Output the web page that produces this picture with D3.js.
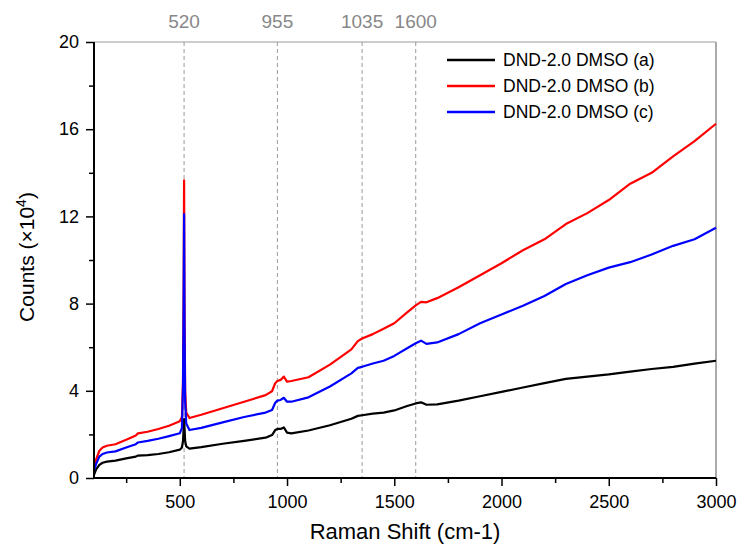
<!DOCTYPE html>
<html>
<head>
<meta charset="utf-8">
<script src="https://cdn.jsdelivr.net/npm/d3@7"></script>
<style>
  body { margin: 0; background: #ffffff; }
  text { font-family: "Liberation Sans", Arial, sans-serif; }
</style>
</head>
<body>
<script>
// raman shift positions (cm-1), shared by the three spectra
const shift = [100, 110, 125, 140, 160, 200, 250, 295, 305, 350, 400, 450, 500, 510, 515, 518, 520, 522, 525, 530, 545,
  600, 700, 800, 900, 930, 945, 955, 970, 985, 1000, 1020, 1100, 1200, 1300, 1330, 1350, 1400, 1450, 1500, 1560,
  1600, 1625, 1650, 1700, 1800, 1900, 2000, 2100, 2200, 2300, 2400, 2500, 2600, 2700, 2800, 2900, 3000];

// counts (x10^4)
const countsA = [0.15, 0.4, 0.6, 0.7, 0.75, 0.8, 0.9, 0.98, 1.03, 1.05, 1.1, 1.18, 1.3, 1.4, 1.7, 2.3, 2.7, 2.3, 1.7, 1.45, 1.35,
  1.42, 1.57, 1.7, 1.85, 1.97, 2.2, 2.25, 2.25, 2.32, 2.08, 2.05, 2.18, 2.42, 2.72, 2.85, 2.88, 2.95, 3.0, 3.1, 3.3,
  3.42, 3.47, 3.36, 3.38, 3.55, 3.75, 3.95, 4.15, 4.35, 4.55, 4.65, 4.75, 4.88, 5.0, 5.1, 5.25, 5.38];
const countsB = [0.55, 0.85, 1.25, 1.4, 1.48, 1.55, 1.75, 1.95, 2.05, 2.12, 2.25, 2.4, 2.6, 2.8, 4.5, 9, 13.65, 8, 4, 3.0, 2.75,
  2.9, 3.2, 3.5, 3.8, 3.98, 4.35, 4.45, 4.5, 4.65, 4.42, 4.45, 4.62, 5.2, 5.9, 6.28, 6.4, 6.6, 6.85, 7.1, 7.6,
  7.92, 8.08, 8.06, 8.25, 8.75, 9.3, 9.85, 10.45, 10.95, 11.65, 12.15, 12.75, 13.5, 14.0, 14.75, 15.45, 16.25];
const countsC = [0.35, 0.65, 0.98, 1.1, 1.17, 1.22, 1.4, 1.55, 1.63, 1.7, 1.8, 1.92, 2.05, 2.3, 4.2, 8, 12.1, 7, 3.5, 2.5, 2.2,
  2.3, 2.55, 2.8, 3.0, 3.12, 3.45, 3.55, 3.58, 3.68, 3.5, 3.5, 3.7, 4.2, 4.8, 5.05, 5.1, 5.25, 5.38, 5.6, 5.95,
  6.18, 6.3, 6.15, 6.22, 6.6, 7.1, 7.5, 7.9, 8.35, 8.9, 9.3, 9.65, 9.9, 10.25, 10.65, 10.95, 11.48];

const seriesNames = ["DND-2.0 DMSO (a)", "DND-2.0 DMSO (b)", "DND-2.0 DMSO (c)"];
const seriesColors = ["#000000", "#ff0000", "#0000ff"];

// marked peaks: where the dashed line sits and what is written above it
const markPos = [520, 955, 1350, 1600];
const markLabels = ["520", "955", "1035", "1600"];

const xTicks = [500, 1000, 1500, 2000, 2500, 3000];
const yTicks = [0, 4, 8, 12, 16, 20];

const draw = () => {
  const width = 749;
  const height = 551;
  const margin = {left: 94, right: 33, top: 42, bottom: 73};
  const svg = d3.select("body").append("svg").attr("width", width).attr("height", height).style("background", "#ffffff");

  const x = d3.scaleLinear().domain([100, 3000]).range([margin.left, width - margin.right]);
  const y = d3.scaleLinear().domain([0, 20]).range([height - margin.bottom, margin.top]);

  // frame top + right (light)
  svg.append("line").attr("x1", x(100)).attr("x2", x(3000)).attr("y1", y(20)).attr("y2", y(20))
    .attr("stroke", "#9a9a9a").attr("stroke-width", 1);
  svg.append("line").attr("x1", x(3000)).attr("x2", x(3000)).attr("y1", y(20)).attr("y2", y(0))
    .attr("stroke", "#aaaaaa").attr("stroke-width", 2);

  // dashed peak markers
  const marks = svg.append("g");
  marks.selectAll("line").data(markPos).enter().append("line")
    .attr("x1", d => x(d)).attr("x2", d => x(d)).attr("y1", y(20)).attr("y2", y(0))
    .attr("stroke", "#9a9a9a").attr("stroke-width", 1).attr("stroke-dasharray", "4,3");
  marks.selectAll("text").data(markPos).enter().append("text")
    .attr("x", d => x(d)).attr("y", 28).attr("text-anchor", "middle")
    .attr("fill", "#888888").style("font-size", "19px")
    .text((d, i) => markLabels[i]);

  // spectra
  const line = d3.line().x(d => x(d[0])).y(d => y(d[1]));
  [countsA, countsB, countsC].forEach((vals, i) => {
    svg.append("path").datum(shift.map((s, j) => [s, vals[j]]))
      .attr("d", line).attr("fill", "none")
      .attr("stroke", seriesColors[i]).attr("stroke-width", 2.2).attr("stroke-linejoin", "round");
  });

  // x axis
  const xAxis = d3.axisBottom(x).tickValues(xTicks).tickSize(8).tickPadding(9).tickFormat(d3.format("d"));
  const gx = svg.append("g").attr("transform", "translate(0," + y(0) + ")").call(xAxis);
  gx.append("g").call(d3.axisBottom(x).tickValues([250, 750, 1250, 1750, 2250, 2750]).tickSize(5).tickFormat(""));
  gx.selectAll(".domain").attr("stroke-width", 2).attr("d", "M" + x(100) + ",0H" + x(3000));
  gx.selectAll(".tick line").attr("stroke-width", 1.5);
  gx.selectAll("text").style("font-size", "18px").attr("fill", "#000");

  // y axis
  const yAxis = d3.axisLeft(y).tickValues(yTicks).tickSize(8).tickPadding(7);
  const gy = svg.append("g").attr("transform", "translate(" + x(100) + ",0)").call(yAxis);
  gy.append("g").call(d3.axisLeft(y).tickValues([2, 6, 10, 14, 18]).tickSize(5).tickFormat(""));
  gy.selectAll(".domain").attr("stroke-width", 2).attr("d", "M0," + y(0) + "V" + y(20));
  gy.selectAll(".tick line").attr("stroke-width", 1.5);
  gy.selectAll("text").style("font-size", "18px").attr("fill", "#000");

  // axis titles
  svg.append("text").attr("x", x(1550)).attr("y", 539).attr("text-anchor", "middle")
    .style("font-size", "22px").text("Raman Shift (cm-1)");
  const yl = svg.append("text").attr("transform", "translate(34," + (y(10) - 3) + ") rotate(-90)")
    .attr("text-anchor", "middle").style("font-size", "21px");
  yl.append("tspan").text("Counts (\u00d710");
  yl.append("tspan").attr("dy", "-8").style("font-size", "14px").text("4");
  yl.append("tspan").attr("dy", "8").text(")");

  // legend
  const legend = svg.append("g").selectAll(".legends").data(seriesNames);
  const lg = legend.enter().append("g").classed("legends", true)
    .attr("transform", (d, i) => "translate(447, " + (60 + i * 26) + ")");
  lg.append("line").attr("x1", 0).attr("x2", 48).attr("y1", 0).attr("y2", 0)
    .attr("stroke", (d, i) => seriesColors[i]).attr("stroke-width", 2.5);
  lg.append("text").attr("x", 56).attr("y", 6).style("font-size", "17.5px").text(d => d);
}

draw();
</script>
</body>
</html>
